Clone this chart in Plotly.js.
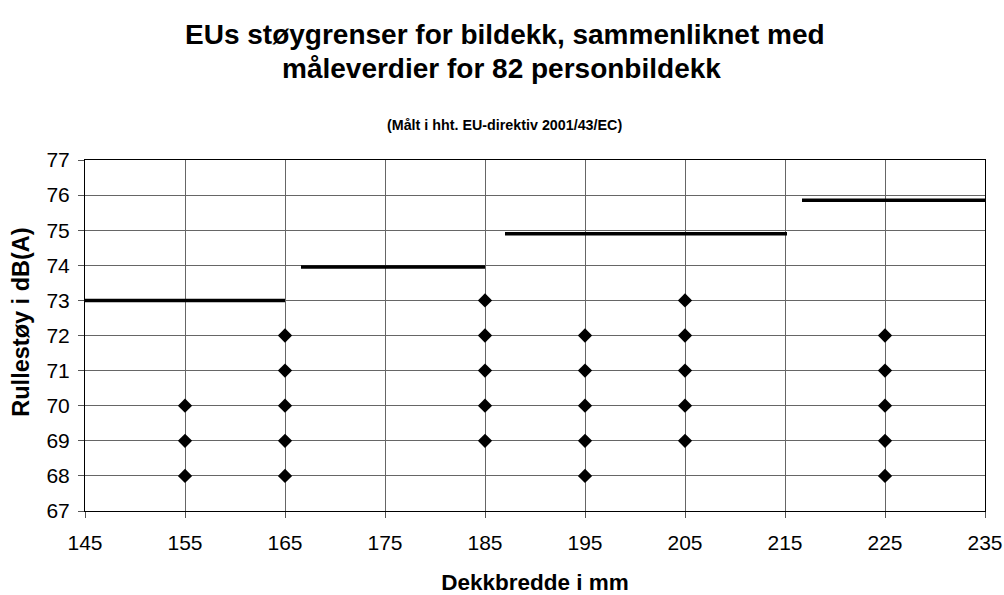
<!DOCTYPE html>
<html>
<head>
<meta charset="utf-8">
<script src="https://cdn.plot.ly/plotly-3.0.1.min.js"></script>
<style>html,body{margin:0;padding:0;background:#fff}#chart{width:1004px;height:595px}</style>
</head>
<body>
<div id="chart"></div>
<script>
// Measured tyre noise values (dB(A)) by tyre width (mm)
const widths = [155,155,155, 165,165,165,165,165, 185,185,185,185,185, 195,195,195,195,195, 205,205,205,205,205, 225,225,225,225,225];
const noise  = [68,69,70, 68,69,70,71,72, 69,70,71,72,73, 68,69,70,71,72, 69,70,71,72,73, 68,69,70,71,72];

// EU limit segments
const limitX1 = [145, 166.6, 187, 216.7];
const limitX2 = [165, 185, 215.2, 235];
const limitY  = [73, 73.95, 74.9, 75.85];

const xTicks = [145,155,165,175,185,195,205,215,225,235];
const yTicks = [67,68,69,70,71,72,73,74,75,76,77];

const titleLine1 = "EUs støygrenser for bildekk, sammenliknet med";
const titleLine2 = "måleverdier for 82 personbildekk";
const subtitleText = "(Målt i hht. EU-direktiv 2001/43/EC)";
const xTitle = "Dekkbredde i mm";
const yTitle = "Rullestøy i dB(A)";

const traces = [];
for (let i = 0; i < limitY.length; i++) {
  traces.push({
    x: [limitX1[i], limitX2[i]], y: [limitY[i], limitY[i]],
    mode: 'lines', type: 'scatter', showlegend: false, hoverinfo: 'skip',
    line: {color: '#000', width: 3.5}, cliponaxis: false
  });
}
traces.push({
  x: widths, y: noise, mode: 'markers', type: 'scatter', showlegend: false,
  marker: {symbol: 'diamond', size: 11, color: '#000'}, cliponaxis: false
});

const font = "Liberation Sans, Arial, sans-serif";
const layout = {
  width: 1004, height: 595,
  paper_bgcolor: '#fff', plot_bgcolor: '#fff',
  margin: {l: 85, r: 19, t: 160, b: 84},
  font: {family: font, color: '#000'},
  annotations: [
    {text: '<b>' + titleLine1 + '</b>', xref: 'paper', yref: 'paper',
     x: 0.467, y: 1.358, xanchor: 'center', yanchor: 'middle', showarrow: false,
     font: {family: font, size: 28, color: '#000'}},
    {text: '<b>' + titleLine2 + '</b>', xref: 'paper', yref: 'paper',
     x: 0.463, y: 1.262, xanchor: 'center', yanchor: 'middle', showarrow: false,
     font: {family: font, size: 28, color: '#000'}},
    {text: '<b>' + subtitleText + '</b>', xref: 'paper', yref: 'paper',
     x: 0.466, y: 1.099, xanchor: 'center', yanchor: 'middle', showarrow: false,
     font: {family: font, size: 14.3, color: '#000'}},
    {text: '<b>' + yTitle + '</b>', xref: 'paper', yref: 'paper', textangle: -90,
     x: -0.0705, y: 0.538, xanchor: 'center', yanchor: 'middle', showarrow: false,
     font: {family: font, size: 23.5, color: '#000'}}
  ],
  xaxis: {
    range: [145, 235], tickvals: xTicks, ticktext: xTicks.map(String),
    showgrid: true, gridcolor: '#666', gridwidth: 1,
    showline: true, linecolor: '#000', linewidth: 1, mirror: true,
    ticks: 'outside', ticklen: 6, tickcolor: '#555',
    tickfont: {family: font, size: 21, color: '#000'},
    ticklabelstandoff: 7,
    zeroline: false,
    title: {text: '<b>' + xTitle + '</b>', font: {family: font, size: 22.5, color: '#000'}, standoff: 21}
  },
  yaxis: {
    range: [67, 77], tickvals: yTicks, ticktext: yTicks.map(String),
    showgrid: true, gridcolor: '#666', gridwidth: 1,
    showline: true, linecolor: '#000', linewidth: 1, mirror: true,
    ticks: 'outside', ticklen: 6, tickcolor: '#555',
    tickfont: {family: font, size: 21, color: '#000'},
    ticklabelstandoff: 4,
    zeroline: false
  }
};

Plotly.newPlot('chart', traces, layout, {displayModeBar: false, staticPlot: true});
</script>
</body>
</html>
